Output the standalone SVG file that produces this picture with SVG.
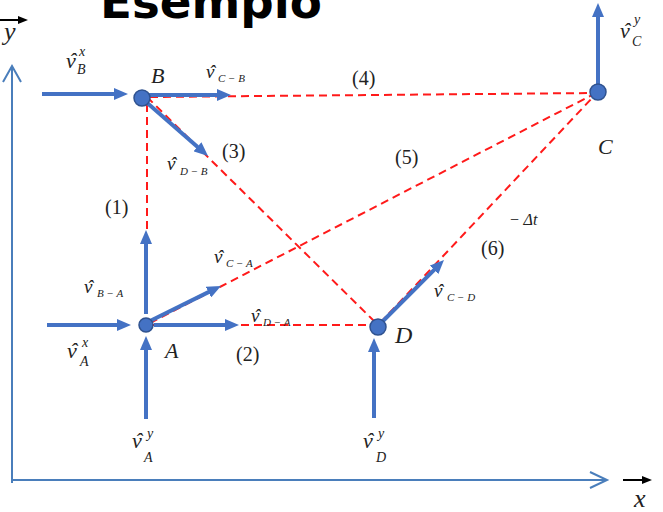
<svg xmlns="http://www.w3.org/2000/svg" width="663" height="512" viewBox="0 0 663 512">
<style>
.ax{stroke:#4a7ebb;stroke-width:2;fill:none}
.vec{stroke:#4472c4;stroke-width:4;fill:none;marker-end:url(#ah)}
.dash{stroke:#ff1a1a;stroke-width:2;stroke-dasharray:8 5;fill:none}
.pt{fill:#4472c4;stroke:#2f528f;stroke-width:1.5}
.lb{font-family:"Liberation Serif","Times New Roman",serif;font-style:italic;fill:#222}
.num{font-family:"Liberation Serif","Times New Roman",serif;fill:#222;font-size:20px}
.v1{font-size:22px}
.v2{font-size:19px}
.s1{font-size:14px}
.s2{font-size:11px}
</style>
<defs>
<marker id="ah" markerUnits="userSpaceOnUse" markerWidth="14" markerHeight="12" viewBox="0 0 14 12" refX="4" refY="6" orient="auto">
<path d="M0,0 L14,6 L0,12 z" fill="#4472c4"/>
</marker>
<marker id="bk" markerUnits="userSpaceOnUse" markerWidth="10" markerHeight="8" viewBox="0 0 10 8" refX="2" refY="4" orient="auto">
<path d="M0,0 L10,4 L0,8 z" fill="#000"/>
</marker>
</defs>
<rect width="663" height="512" fill="#fff"/>
<text x="100" y="18" font-family="DejaVu Sans,Verdana,sans-serif" font-weight="bold" font-size="47" fill="#000" textLength="222" lengthAdjust="spacingAndGlyphs">Esempio</text>
<g id="axes">
<path class="ax" d="M12,483 V66 M3,82 L12,66 L21,82"/>
<path class="ax" d="M11,480 H607 M590,472 L607,480 L590,488"/>
<line x1="0" y1="20" x2="20" y2="20" stroke="#000" stroke-width="2" marker-end="url(#bk)"/>
<text class="lb" x="4" y="40" font-size="26">y</text>
<line x1="623" y1="480" x2="644" y2="480" stroke="#000" stroke-width="2" marker-end="url(#bk)"/>
<text class="lb" x="634" y="507" font-size="26">x</text>
</g>
<g id="connectors">
<line class="dash" x1="150" y1="97" x2="594" y2="93"/>
<line class="dash" x1="147" y1="104" x2="147" y2="234"/>
<line class="dash" x1="147" y1="97" x2="375" y2="322"/>
<line class="dash" x1="150" y1="323" x2="594" y2="94"/>
<line class="dash" x1="150" y1="325" x2="372" y2="325"/>
<line class="dash" x1="380" y1="323" x2="594" y2="96"/>
<line class="vec" x1="42" y1="94" x2="118" y2="94"/>
<line class="vec" x1="146" y1="95" x2="221" y2="95"/>
<line class="vec" x1="145" y1="101" x2="200.5" y2="149.4"/>
<line class="vec" x1="146" y1="314" x2="146" y2="240"/>
<line class="vec" x1="150" y1="321" x2="212" y2="290.4"/>
<line class="vec" x1="154" y1="325" x2="229" y2="325"/>
<line class="vec" x1="47" y1="325" x2="121" y2="325"/>
<line class="vec" x1="146" y1="419" x2="146" y2="346"/>
<line class="vec" x1="374" y1="418" x2="374" y2="348"/>
<line class="vec" x1="382" y1="322" x2="436.9" y2="267.1"/>
<line class="vec" x1="598" y1="88" x2="598" y2="13"/>
</g>
<g id="node-B">
<circle class="pt" cx="142" cy="98" r="8"/>
<text class="lb" x="151" y="83" font-size="22">B</text>
</g>
<g id="node-A">
<circle class="pt" cx="146" cy="325" r="7"/>
<text class="lb" x="165" y="358" font-size="22">A</text>
</g>
<g id="node-D">
<circle class="pt" cx="378" cy="327" r="8"/>
<text class="lb" x="395" y="343" font-size="24">D</text>
</g>
<g id="node-C">
<circle class="pt" cx="598" cy="92" r="8"/>
<text class="lb" x="598" y="154" font-size="22">C</text>
</g>
<g id="labels">
<text class="lb"><tspan class="v1" x="66" y="68">v</tspan><tspan class="v1" x="69" y="68">ˆ</tspan><tspan class="s1" x="79" y="56">x</tspan><tspan class="s1" x="77" y="74">B</tspan></text>
<text class="lb"><tspan class="v2" x="206" y="78">v</tspan><tspan class="v2" x="209" y="78">ˆ</tspan><tspan class="s2" x="218" y="82">C − B</tspan></text>
<text class="lb"><tspan class="v1" x="620" y="38">v</tspan><tspan class="v1" x="623" y="38">ˆ</tspan><tspan class="s1" x="634" y="24">y</tspan><tspan class="s1" x="632" y="46">C</tspan></text>
<text class="lb"><tspan class="v2" x="167" y="170">v</tspan><tspan class="v2" x="170" y="170">ˆ</tspan><tspan class="s2" x="180" y="175">D − B</tspan></text>
<text class="lb"><tspan class="v2" x="214" y="263">v</tspan><tspan class="v2" x="217" y="263">ˆ</tspan><tspan class="s2" x="226" y="267">C − A</tspan></text>
<text class="lb"><tspan class="v2" x="84" y="293">v</tspan><tspan class="v2" x="87" y="293">ˆ</tspan><tspan class="s2" x="97" y="297">B − A</tspan></text>
<text class="lb"><tspan class="v2" x="251" y="322">v</tspan><tspan class="v2" x="254" y="322">ˆ</tspan><tspan class="s2" x="263" y="326">D − A</tspan></text>
<text class="lb"><tspan class="v1" x="67" y="358">v</tspan><tspan class="v1" x="70" y="358">ˆ</tspan><tspan class="s1" x="82" y="347">x</tspan><tspan class="s1" x="80" y="366">A</tspan></text>
<text class="lb"><tspan class="v1" x="132" y="448">v</tspan><tspan class="v1" x="135" y="448">ˆ</tspan><tspan class="s1" x="147" y="438">y</tspan><tspan class="s1" x="144" y="462">A</tspan></text>
<text class="lb"><tspan class="v1" x="363" y="448">v</tspan><tspan class="v1" x="366" y="448">ˆ</tspan><tspan class="s1" x="378" y="438">y</tspan><tspan class="s1" x="376" y="462">D</tspan></text>
<text class="lb"><tspan class="v2" x="434" y="297">v</tspan><tspan class="v2" x="437" y="297">ˆ</tspan><tspan class="s2" x="447" y="301">C − D</tspan></text>
<text class="lb" x="509" y="225" font-size="16">− Δt</text>
<text class="num" x="105" y="214">(1)</text>
<text class="num" x="236" y="361">(2)</text>
<text class="num" x="222" y="158">(3)</text>
<text class="num" x="352" y="85">(4)</text>
<text class="num" x="395" y="164">(5)</text>
<text class="num" x="481" y="255">(6)</text>
</g>
</svg>
